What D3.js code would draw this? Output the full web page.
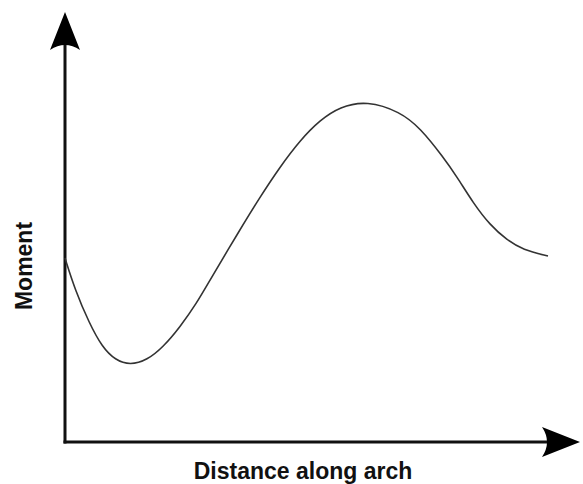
<!DOCTYPE html>
<html>
<head>
<meta charset="utf-8">
<script src="https://cdn.jsdelivr.net/npm/d3@7"></script>
<style>
  body { margin: 0; background: #fff; }
  svg { display: block; }
  .label { font-family: Arial, "Liberation Sans", sans-serif; font-weight: bold; font-size: 23px; fill: #111; }
</style>
</head>
<body>
<svg id="chart" width="583" height="484"></svg>
<script>
// distance along arch (0 = springing, 100 = end of curve)
const distance = [0, 2.1, 5, 7.7, 10.4, 13.5, 17, 20.3, 23.8, 27.3, 30, 36.2, 40.4, 44.5, 48.7, 52.8, 56.9, 62.5, 69.4, 73.5, 78.3, 81.2, 84.5, 88, 91.5, 94.8, 100];
// bending moment, relative units
const moment = [54.1, 44.7, 35, 27.9, 24.1, 22.6, 24.1, 27.9, 33.8, 40.9, 47.6, 62.4, 72.1, 80.9, 88.8, 94.7, 98.6, 100.4, 97.1, 92.4, 83.8, 77.9, 70.3, 63.8, 59.4, 56.5, 54.7];

const xLabel = "Distance along arch";
const yLabel = "Moment";

const svg = d3.select("#chart");
const margin = { left: 65, right: 35, top: 102, bottom: 42 };
const W = +svg.attr("width"), H = +svg.attr("height");

const x = d3.scaleLinear().domain([0, 100]).range([margin.left, W - margin.right]);
const y = d3.scaleLinear().domain([0, 100]).range([H - margin.bottom, margin.top]);

const x0 = x(0), y0 = y(0);
const xEnd = 580, yEnd = 12;

// axes
svg.append("line")
  .attr("x1", x0).attr("y1", y0 + 1.5).attr("x2", x0).attr("y2", yEnd + 20)
  .attr("stroke", "#111").attr("stroke-width", 3);
svg.append("line")
  .attr("x1", x0 - 1.5).attr("y1", y0).attr("x2", xEnd - 20).attr("y2", y0)
  .attr("stroke", "#111").attr("stroke-width", 3);

// arrow heads (notched)
svg.append("path")
  .attr("d", `M${x0},${yEnd} L${x0 - 15},${yEnd + 38} Q${x0},${yEnd + 28} ${x0 + 15},${yEnd + 38} Z`)
  .attr("fill", "#000");
svg.append("path")
  .attr("d", `M${xEnd},${y0} L${xEnd - 38},${y0 - 15} Q${xEnd - 28},${y0} ${xEnd - 38},${y0 + 15} Z`)
  .attr("fill", "#000");

// moment curve
const line = d3.line()
  .x((d, i) => x(distance[i]))
  .y(d => y(d))
  .curve(d3.curveBasis);

svg.append("path")
  .datum(moment)
  .attr("d", line)
  .attr("fill", "none")
  .attr("stroke", "#333")
  .attr("stroke-width", 1.6);

// labels
svg.append("text")
  .attr("class", "label")
  .attr("x", 303).attr("y", 479)
  .attr("text-anchor", "middle")
  .text(xLabel);

svg.append("text")
  .attr("class", "label")
  .attr("transform", "translate(32,266) rotate(-90)")
  .attr("text-anchor", "middle")
  .text(yLabel);
</script>
</body>
</html>
